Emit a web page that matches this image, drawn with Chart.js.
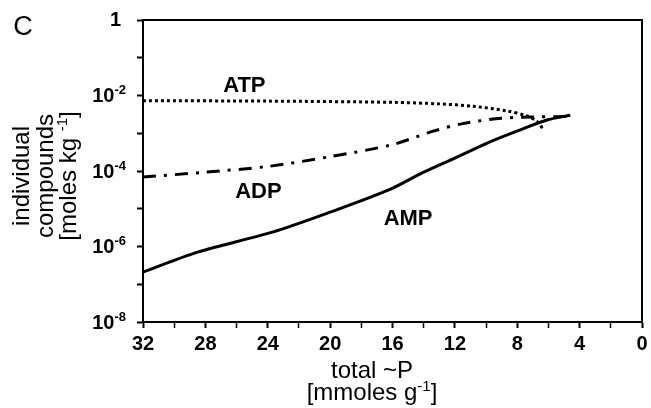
<!DOCTYPE html>
<html>
<head>
<meta charset="utf-8">
<script src="https://cdn.jsdelivr.net/npm/chart.js@4.4.0/dist/chart.umd.min.js"></script>
<style>
    html, body { margin: 0; padding: 0; background: #fff; }
    #wrap { width: 651px; height: 408px; position: relative; }
</style>
</head>
<body>
<div id="wrap"><canvas id="chart"></canvas></div>
<script>
// total ~P (mmoles/g) vs individual compounds (moles/kg)
const atpX = [32, 24, 16, 13, 10.85, 8.67, 7.4, 6.75, 6.35];
const atpY = [7.3e-3, 7.1e-3, 6.6e-3, 6.0e-3, 5.2e-3, 3.9e-3, 2.9e-3, 2.1e-3, 1.3e-3];
const adpX = [32, 28, 24, 20, 16, 13.5, 11.5, 9, 7, 5.5, 4.6];
const adpY = [6.9e-5, 9.3e-5, 1.32e-4, 2.4e-4, 5.0e-4, 1.1e-3, 1.8e-3, 2.5e-3, 2.7e-3, 2.75e-3, 2.8e-3];
const ampX = [32, 28.5, 23.7, 20, 16.2, 14.1, 11.9, 9.75, 7.8, 6.1, 4.6];
const ampY = [2.1e-7, 7.1e-7, 2.4e-6, 8.1e-6, 3.2e-5, 8.9e-5, 2.3e-4, 5.9e-4, 1.23e-3, 2.24e-3, 3.0e-3];

const seriesNames = ['ATP', 'ADP', 'AMP'];
const nameX = [25.5, 24.6, 15.0];
const nameY = [1.8e-2, 2.8e-5, 5.4e-6];

const yDecades = [0, -1, -2, -3, -4, -5, -6, -7, -8];
const yLabelExps = [0, -2, -4, -6, -8];
const xTickLabels = [32, 28, 24, 20, 16, 12, 8, 4, 0];

const FONT = "'Liberation Sans', Arial, Helvetica, sans-serif";
const TITLE = '24px ' + FONT;
const SUP = '15px ' + FONT;

function toPoints(xs, ys) {
    return xs.map((x, i) => ({ x: x, y: ys[i] }));
}

// draws base + raised exponent (+ optional tail) around an anchor
function drawSup(ctx, base, sup, tail, x, y, align, baseFont, supFont, raise) {
    ctx.font = baseFont;
    const wb = ctx.measureText(base).width;
    const wt = ctx.measureText(tail).width;
    ctx.font = supFont;
    const ws = ctx.measureText(sup).width;
    const total = wb + ws + wt;
    let start = x;
    if (align === 'right') start = x - total;
    if (align === 'center') start = x - total / 2;
    ctx.textAlign = 'left';
    ctx.font = baseFont;
    ctx.fillText(base, start, y);
    ctx.fillText(tail, start + wb + ws, y);
    ctx.font = supFont;
    ctx.fillText(sup, start + wb, y - raise);
}

const textPlugin = {
    id: 'texts',
    afterDraw(chart) {
        const { ctx, chartArea: a, scales: { x, y } } = chart;
        ctx.save();
        // box top and right
        ctx.strokeStyle = '#000';
        ctx.lineWidth = 2;
        ctx.beginPath();
        ctx.moveTo(a.left, a.top);
        ctx.lineTo(a.right, a.top);
        ctx.lineTo(a.right, a.bottom);
        ctx.stroke();

        ctx.fillStyle = '#000';
        ctx.textBaseline = 'middle';

        // y tick labels with exponents
        yLabelExps.forEach(e => {
            const py = y.getPixelForValue(Math.pow(10, e));
            if (e === 0) {
                ctx.font = 'bold 20px ' + FONT;
                ctx.textAlign = 'right';
                ctx.fillText('1', 121, py);
            } else {
                drawSup(ctx, '10', String(e), '', 126, py + 1, 'right',
                    'bold 20px ' + FONT, 'bold 13px ' + FONT, 6);
            }
        });

        // series names
        ctx.font = 'bold 22px ' + FONT;
        ctx.textAlign = 'center';
        seriesNames.forEach((n, i) => {
            ctx.fillText(n, x.getPixelForValue(nameX[i]), y.getPixelForValue(nameY[i]));
        });

        // panel letter
        ctx.font = '27px ' + FONT;
        ctx.textAlign = 'center';
        ctx.fillText('C', 23, 28);

        // x title
        ctx.font = TITLE;
        ctx.textAlign = 'center';
        ctx.fillText('total ~P', 372, 371);
        drawSup(ctx, '[mmoles g', '-1', ']', 372, 393, 'center', TITLE, SUP, 6);

        // y title, rotated
        ctx.save();
        ctx.translate(0, 176);
        ctx.rotate(-Math.PI / 2);
        ctx.font = TITLE;
        ctx.textAlign = 'center';
        ctx.fillText('individual', 0, 22);
        ctx.fillText('compounds', 0, 46);
        drawSup(ctx, '[moles kg ', '-1', ']', 0, 69, 'center', TITLE, SUP, 6);
        ctx.restore();

        ctx.restore();
    }
};

const ctx = document.getElementById('chart').getContext('2d');
new Chart(ctx, {
    type: 'line',
    data: {
        datasets: [{
            label: 'ATP',
            data: toPoints(atpX, atpY),
            borderColor: '#000',
            borderWidth: 3,
            borderDash: [3, 3],
            pointRadius: 0,
            tension: 0.3
        }, {
            label: 'ADP',
            data: toPoints(adpX, adpY),
            borderColor: '#000',
            borderWidth: 3,
            borderDash: [13, 8, 3, 8],
            pointRadius: 0,
            tension: 0.3
        }, {
            label: 'AMP',
            data: toPoints(ampX, ampY),
            borderColor: '#000',
            borderWidth: 3,
            pointRadius: 0,
            tension: 0.3
        }]
    },
    options: {
        responsive: true,
        maintainAspectRatio: false,
        animation: false,
        layout: { padding: { top: 20, right: 9, left: 0, bottom: 0 } },
        plugins: {
            legend: { display: false },
            tooltip: { enabled: false }
        },
        scales: {
            x: {
                type: 'linear',
                reverse: true,
                min: 0,
                max: 32,
                afterFit: scale => { scale.height = 86; },
                afterBuildTicks: scale => {
                    const t = [];
                    for (let v = 0; v <= 32; v += 2) t.push({ value: v });
                    scale.ticks = t;
                },
                ticks: {
                    color: '#000',
                    padding: 4,
                    maxRotation: 0,
                    autoSkip: false,
                    font: { family: FONT, size: 20, weight: 'bold' },
                    callback: v => (xTickLabels.includes(v) ? String(v) : '')
                },
                grid: {
                    drawOnChartArea: false,
                    drawTicks: true,
                    tickLength: 6,
                    tickColor: '#000',
                    tickWidth: c => (c.tick && c.tick.value % 4 === 0 ? 2 : 1.5)
                },
                border: { display: true, color: '#000', width: 2 }
            },
            y: {
                type: 'logarithmic',
                min: 1e-8,
                max: 1,
                afterFit: scale => { scale.width = 143; },
                afterBuildTicks: scale => {
                    scale.ticks = yDecades.map(e => ({ value: Math.pow(10, e) }));
                },
                ticks: { display: false },
                grid: {
                    drawOnChartArea: false,
                    drawTicks: true,
                    tickLength: 6,
                    tickColor: '#000',
                    tickWidth: 2
                },
                border: { display: true, color: '#000', width: 2 }
            }
        }
    },
    plugins: [textPlugin]
});
</script>
</body>
</html>
